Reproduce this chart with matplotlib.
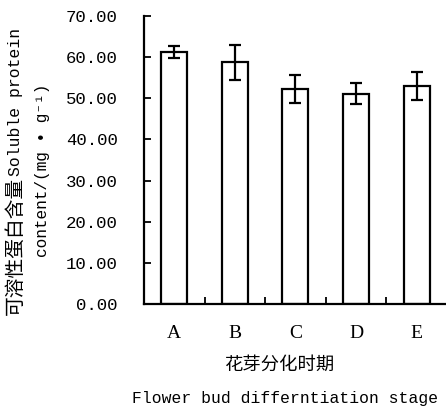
import matplotlib
matplotlib.use("Agg")
import matplotlib.pyplot as plt
import numpy as np

categories = ["A", "B", "C", "D", "E"]
values = [61.2, 58.7, 52.3, 51.1, 53.0]
errors = [1.45, 4.2, 3.4, 2.5, 3.5]
yticks = [0, 10, 20, 30, 40, 50, 60, 70]

W, H = 446, 409
fig = plt.figure(figsize=(W / 100, H / 100), dpi=100)
ax = fig.add_axes([144 / W, 1 - 304 / H, 1 - 144 / W + 0.002, (304 - 16) / H])

x = np.arange(len(categories))
ax.bar(x, values, width=0.43, facecolor="white", edgecolor="black", linewidth=1.6)
ax.errorbar(x, values, yerr=errors, fmt="none", ecolor="black", elinewidth=1.6,
            capsize=4.5, capthick=1.6)

ax.set_xlim(-0.5, 4.5)
ax.set_ylim(0, 70)
ax.spines["top"].set_visible(False)
ax.spines["right"].set_visible(False)
for s in ["left", "bottom"]:
    ax.spines[s].set_linewidth(1.6)

ax.set_yticks(yticks)
ax.set_yticklabels([f"{v:.2f}" for v in yticks], family="Liberation Mono",
                   fontsize=12.5)
ax.tick_params(axis="y", direction="in", length=5, width=1.3, pad=19)

ax.set_xticks(x)
ax.set_xticklabels(categories, family="Liberation Serif", fontsize=14)
ax.tick_params(axis="x", which="major", length=0, pad=15)
ax.set_xticks(x[:-1] + 0.5, minor=True)
ax.tick_params(axis="x", which="minor", direction="in", length=5, width=1.3)

def fx(px):
    return px / W

def fy(py):
    return 1 - py / H

# y label line 1
fig.text(fx(15), fy(315), "可溶性蛋白含量", rotation=90, ha="center", va="bottom",
         family="Noto Sans CJK SC", fontsize=14.2)
fig.text(fx(16), fy(176), "Soluble protein", rotation=90, ha="center", va="bottom",
         family="Liberation Mono", fontsize=11.8)
# y label line 2
fig.text(fx(43), fy(170), "content/(mg • g⁻¹)", rotation=90, ha="center", va="center",
         family=["Liberation Mono", "DejaVu Sans Mono", "DejaVu Sans"], fontsize=11.6)

# x labels
fig.text(fx(279), fy(365), "花芽分化时期", ha="center", va="center",
         family="Noto Sans CJK SC", fontsize=13.2)
fig.text(fx(285.5), fy(398), "Flower bud differntiation stage", ha="center", va="center",
         family="Liberation Mono", fontsize=11.8)

fig.savefig("out.png", dpi=100)
